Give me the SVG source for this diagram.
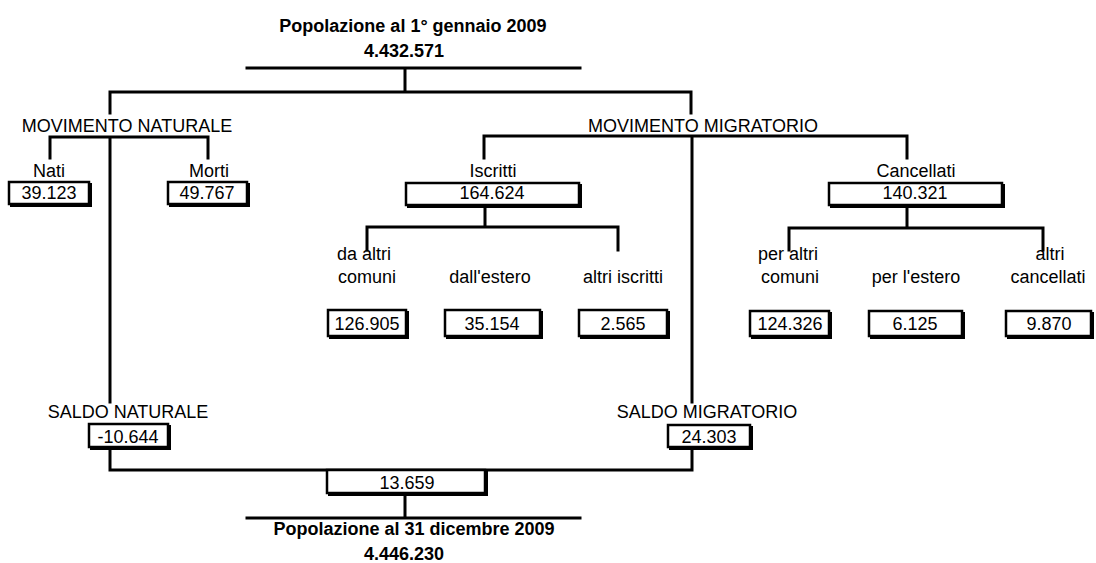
<svg xmlns="http://www.w3.org/2000/svg" width="1096" height="563" viewBox="0 0 1096 563">
<style>
text{font-family:"Liberation Sans",Arial,sans-serif;font-size:18px;fill:#000;text-anchor:middle}
.b{font-weight:bold}
.c{stroke:#000;stroke-width:3;fill:none;stroke-linecap:square}
.box{fill:#fff;stroke:#000;stroke-width:2.5}
.sh{fill:none;stroke:#000;stroke-width:2}
</style>
<rect width="1096" height="563" fill="#fff"/>
<g id="connectors">
<path class="c" d="M247 68H580M405 68V92M110 92H691M110 92V113M691 92V113"/>
<path class="c" d="M50 137H208M50 137V158M208 137V158M110 137V402"/>
<path class="c" d="M484 136H907M484 136V158M907 136V158M692 136V402"/>
<path class="c" d="M485 206V227M367 227H618M367 227V250M618 227V250"/>
<path class="c" d="M907 206V228M789 228H1043M789 228V250M1043 228V250"/>
<path class="c" d="M110 448V470H692V448M405 494V518M247 518H580"/>
</g>
<g id="title-start">
<text class="b" x="413" y="32">Popolazione al 1° gennaio 2009</text>
<text class="b" x="404" y="57">4.432.571</text>
</g>
<g id="mov-naturale"><text x="127" y="132">MOVIMENTO NATURALE</text></g>
<g id="mov-migratorio"><text x="703" y="132">MOVIMENTO MIGRATORIO</text></g>
<g id="nati">
<text x="49" y="177">Nati</text>
<rect class="box" x="9" y="182" width="80" height="22"/><path class="sh" d="M91 183V206H10"/>
<text x="49" y="199">39.123</text>
</g>
<g id="morti">
<text x="209" y="177">Morti</text>
<rect class="box" x="168" y="182" width="79" height="22"/><path class="sh" d="M249 183V206H169"/>
<text x="207" y="199">49.767</text>
</g>
<g id="iscritti">
<text x="493" y="177">Iscritti</text>
<rect class="box" x="406" y="183" width="173" height="22"/><path class="sh" d="M581 184V207H407"/>
<text x="492" y="199">164.624</text>
</g>
<g id="cancellati">
<text x="916" y="177">Cancellati</text>
<rect class="box" x="829" y="183" width="173" height="22"/><path class="sh" d="M1004 184V207H830"/>
<text x="915" y="199">140.321</text>
</g>
<g id="da-altri-comuni">
<text x="364" y="260">da altri</text><text x="367" y="283">comuni</text>
<rect class="box" x="328" y="310" width="78" height="26"/><path class="sh" d="M408 311V338H329"/>
<text x="367" y="330">126.905</text>
</g>
<g id="dall-estero">
<text x="490" y="283">dall'estero</text>
<rect class="box" x="445" y="310" width="95" height="26"/><path class="sh" d="M542 311V338H446"/>
<text x="492" y="330">35.154</text>
</g>
<g id="altri-iscritti">
<text x="623" y="283">altri iscritti</text>
<rect class="box" x="579" y="310" width="88" height="26"/><path class="sh" d="M669 311V338H580"/>
<text x="623" y="330">2.565</text>
</g>
<g id="per-altri-comuni">
<text x="788" y="260">per altri</text><text x="790" y="283">comuni</text>
<rect class="box" x="750" y="311" width="79" height="25"/><path class="sh" d="M831 312V338H751"/>
<text x="790" y="330">124.326</text>
</g>
<g id="per-estero">
<text x="916" y="283">per l'estero</text>
<rect class="box" x="869" y="311" width="93" height="25"/><path class="sh" d="M964 312V338H870"/>
<text x="915" y="330">6.125</text>
</g>
<g id="altri-cancellati">
<text x="1050" y="260">altri</text><text x="1048" y="283">cancellati</text>
<rect class="box" x="1006" y="311" width="85" height="25"/><path class="sh" d="M1093 312V338H1007"/>
<text x="1049" y="330">9.870</text>
</g>
<g id="saldo-naturale">
<text x="128" y="418">SALDO NATURALE</text>
<rect class="box" x="89" y="424" width="79" height="23"/><path class="sh" d="M170 425V449H90"/>
<text x="128" y="443">-10.644</text>
</g>
<g id="saldo-migratorio">
<text x="707" y="418">SALDO MIGRATORIO</text>
<rect class="box" x="668" y="425" width="82" height="22"/><path class="sh" d="M752 426V449H669"/>
<text x="709" y="443">24.303</text>
</g>
<g id="saldo-totale">
<rect class="box" x="327" y="470" width="158" height="23"/><path class="sh" d="M487 471V495H328"/>
<text x="407" y="489">13.659</text>
</g>
<g id="title-end">
<text class="b" x="414" y="535">Popolazione al 31 dicembre 2009</text>
<text class="b" x="404" y="560">4.446.230</text>
</g>
</svg>
